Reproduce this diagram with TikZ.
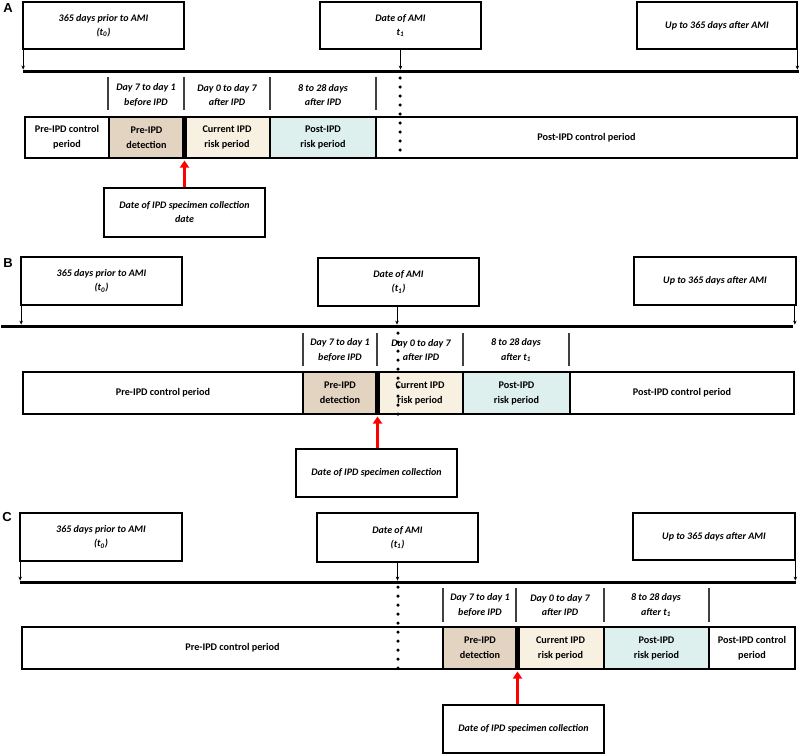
\documentclass[tikz,border=0pt]{standalone}
\usepackage{fontspec}
\setmainfont{Carlito}
\newfontfamily\panelfont{Liberation Sans}
\usetikzlibrary{arrows.meta}
\definecolor{tanfill}{HTML}{E3D3C1}
\definecolor{creamfill}{HTML}{F8F0E1}
\definecolor{cyanfill}{HTML}{DDF0EE}
\begin{document}
\begin{tikzpicture}[x=1pt,y=-1pt,
 topbox/.style={draw, line width=1.7pt, inner sep=0pt, align=center, font=\fontsize{10}{14}\selectfont\bfseries\itshape},
 cell/.style={draw, line width=2.5pt, inner sep=0pt, align=center, font=\fontsize{10.2}{15}\selectfont\bfseries},
 ticklbl/.style={align=center, inner sep=0pt, font=\fontsize{10}{14.5}\selectfont\bfseries\itshape},
 tl/.style={line width=3.8pt},
 ptr/.style={-{Stealth[length=4pt,width=3.5pt]}, line width=0.8pt, shorten >=1.9pt},
 tickln/.style={line width=1.3pt, black!75},
 dotln/.style={line width=3.5pt, line cap=round, dash pattern=on 0pt off 9pt},
 redarrow/.style={red, line width=2.5pt, -{Triangle[length=7pt,width=9pt]}, shorten >=2.5pt},
 sepln/.style={line width=4.5pt},
 plabel/.style={font=\fontsize{13}{13}\selectfont\panelfont\bfseries, inner sep=0pt}
]
\useasboundingbox (0,0) rectangle (800,755);

% ================= Panel A =================
\node[plabel] (pA) at (8,8) {A};
\node[topbox, minimum width=161pt, minimum height=47pt] (a0) at (103.5,25.5) {365 days prior to AMI\\(t\textsubscript{0})};
\node[topbox, minimum width=161pt, minimum height=47pt] (aA) at (400.5,25.5) {Date of AMI\\t\textsubscript{1}};
\node[topbox, minimum width=160pt, minimum height=47pt] (aU) at (717,25.5) {Up to 365 days after AMI};
\coordinate (aL1) at (23,71.5);
\coordinate (aL2) at (799,71.5);
\draw[tl] (aL1) -- (aL2);
\draw[ptr] ([xshift=1pt]a0.south west) -- ([xshift=1pt]a0.south west |- aL1);
\draw[ptr] (aA.south) -- (aA.south |- aL1);
\draw[ptr] ([xshift=-0.5pt]aU.south east) -- ([xshift=-0.5pt]aU.south east |- aL1);
\draw[tickln] (108,77) -- (108,110);
\draw[tickln] (184,77) -- (184,110);
\draw[tickln] (270,77) -- (270,110);
\draw[tickln] (376,77) -- (376,110);
\node[ticklbl] (al1) at (146,95) {Day 7 to day 1\\before IPD};
\node[ticklbl] (al2) at (227,95) {Day 0 to day 7\\after IPD};
\node[ticklbl] (al3) at (323,95) {8 to 28 days\\after IPD};
\node[cell, minimum width=84pt, minimum height=41pt] (ac1) at (67,137.5) {Pre-IPD control\\period};
\node[cell, fill=tanfill, minimum width=75pt, minimum height=41pt] (ac2) at (146.5,137.5) {Pre-IPD\\detection};
\node[cell, fill=creamfill, minimum width=86pt, minimum height=41pt] (ac3) at (227,137.5) {Current IPD\\risk period};
\node[cell, fill=cyanfill, minimum width=106pt, minimum height=41pt] (ac4) at (323,137.5) {Post-IPD\\risk period};
\node[cell, minimum width=421pt, minimum height=41pt] (ac5) at (586.5,137.5) {Post-IPD control period};
\coordinate (aSepT) at (184.5,117);
\coordinate (aSepB) at (184.5,158);
\draw[sepln] (aSepT) -- (aSepB);
\coordinate (aD1) at (400,78);
\coordinate (aD2) at (400,158);
\draw[dotln] (aD1) -- (aD2);
\node[topbox, minimum width=161pt, minimum height=49pt] (aS) at (184.5,212.5) {Date of IPD specimen collection\\date};
\draw[redarrow] (aS.north -| aSepB) -- (aSepB);

% ================= Panel B =================
\node[plabel] (pB) at (8,263) {B};
\node[topbox, minimum width=161pt, minimum height=48pt] (b0) at (101.5,281) {365 days prior to AMI\\(t\textsubscript{0})};
\node[topbox, minimum width=161pt, minimum height=48pt] (bA) at (398.5,282) {Date of AMI\\(t\textsubscript{1})};
\node[topbox, minimum width=162pt, minimum height=48pt] (bU) at (715,281) {Up to 365 days after AMI};
\coordinate (bL1) at (1,326.5);
\coordinate (bL2) at (793,326.5);
\draw[tl] (bL1) -- (bL2);
\draw[ptr] ([xshift=1pt]b0.south west) -- ([xshift=1pt]b0.south west |- bL1);
\draw[ptr] ([xshift=-1.5pt]bA.south) -- ([xshift=-1.5pt]bA.south |- bL1);
\draw[ptr] ([xshift=-2pt]bU.south east) -- ([xshift=-2pt]bU.south east |- bL1);
\draw[tickln] (303,333) -- (303,366);
\draw[tickln] (377,333) -- (377,366);
\draw[tickln] (463,333) -- (463,366);
\draw[tickln] (569,333) -- (569,366);
\node[ticklbl] (bl1) at (340,350) {Day 7 to day 1\\before IPD};
\node[ticklbl] (bl2) at (421,350) {Day 0 to day 7\\after IPD};
\node[ticklbl] (bl3) at (516,350) {8 to 28 days\\after t\textsubscript{1}};
\node[cell, minimum width=280pt, minimum height=42pt] (bc1) at (163,393) {Pre-IPD control period};
\node[cell, fill=tanfill, minimum width=74pt, minimum height=42pt] (bc2) at (340,393) {Pre-IPD\\detection};
\node[cell, fill=creamfill, minimum width=86pt, minimum height=42pt] (bc3) at (420,393) {Current IPD\\risk period};
\node[cell, fill=cyanfill, minimum width=107pt, minimum height=42pt] (bc4) at (516.5,393) {Post-IPD\\risk period};
\node[cell, minimum width=224pt, minimum height=42pt] (bc5) at (682,393) {Post-IPD control period};
\coordinate (bSepT) at (377.5,372);
\coordinate (bSepB) at (377.5,414);
\draw[sepln] (bSepT) -- (bSepB);
\coordinate (bD1) at (398,333);
\coordinate (bD2) at (398,414);
\draw[dotln] (bD1) -- (bD2);
\node[topbox, minimum width=161pt, minimum height=48pt] (bS) at (376.5,473) {Date of IPD specimen collection};
\draw[redarrow] (bS.north -| bSepB) -- (bSepB);

% ================= Panel C =================
\node[plabel] (pC) at (7,517) {C};
\node[topbox, minimum width=162pt, minimum height=48pt] (c0) at (101,537) {365 days prior to AMI\\(t\textsubscript{0})};
\node[topbox, minimum width=161pt, minimum height=49pt] (cA) at (397.5,537.5) {Date of AMI\\(t\textsubscript{1})};
\node[topbox, minimum width=162pt, minimum height=47pt] (cU) at (714,536.5) {Up to 365 days after AMI};
\coordinate (cL1) at (20,582.5);
\coordinate (cL2) at (796,582.5);
\draw[tl] (cL1) -- (cL2);
\draw[ptr] ([xshift=1pt]c0.south west) -- ([xshift=1pt]c0.south west |- cL1);
\draw[ptr] (cA.south) -- (cA.south |- cL1);
\draw[ptr] ([xshift=-0.5pt]cU.south east) -- ([xshift=-0.5pt]cU.south east |- cL1);
\draw[tickln] (443,588) -- (443,622);
\draw[tickln] (516,588) -- (516,622);
\draw[tickln] (604,588) -- (604,622);
\draw[tickln] (709,588) -- (709,622);
\node[ticklbl] (cl1) at (480,605) {Day 7 to day 1\\before IPD};
\node[ticklbl] (cl2) at (560,605) {Day 0 to day 7\\after IPD};
\node[ticklbl] (cl3) at (656,605) {8 to 28 days\\after t\textsubscript{1}};
\node[cell, minimum width=421pt, minimum height=42pt] (cc1) at (232.5,648) {Pre-IPD control period};
\node[cell, fill=tanfill, minimum width=74pt, minimum height=42pt] (cc2) at (480,648) {Pre-IPD\\detection};
\node[cell, fill=creamfill, minimum width=87pt, minimum height=42pt] (cc3) at (560.5,648) {Current IPD\\risk period};
\node[cell, fill=cyanfill, minimum width=105pt, minimum height=42pt] (cc4) at (656.5,648) {Post-IPD\\risk period};
\node[cell, minimum width=86pt, minimum height=42pt] (cc5) at (752,648) {Post-IPD control\\period};
\coordinate (cSepT) at (517.5,627);
\coordinate (cSepB) at (517.5,669);
\draw[sepln] (cSepT) -- (cSepB);
\coordinate (cD1) at (398,587);
\coordinate (cD2) at (398,669);
\draw[dotln] (cD1) -- (cD2);
\node[topbox, minimum width=161pt, minimum height=48pt] (cS) at (523.5,729) {Date of IPD specimen collection};
\draw[redarrow] (cS.north -| cSepB) -- (cSepB);
\end{tikzpicture}
\end{document}
